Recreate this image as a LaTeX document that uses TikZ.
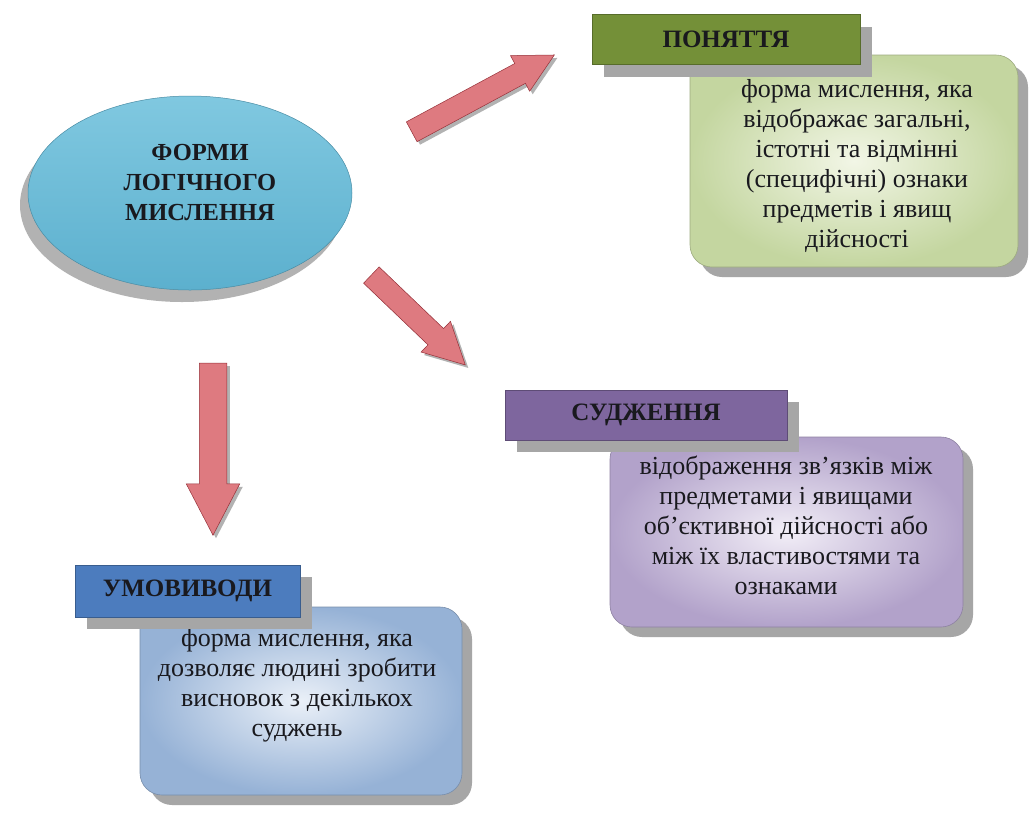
\documentclass[tikz,border=0pt]{standalone}
\usepackage{fontspec}
\setmainfont{Liberation Serif}
\usetikzlibrary{shapes.geometric, shapes.arrows, shadows}

\definecolor{ellblue}{RGB}{92,176,206}
\definecolor{ellbluelt}{RGB}{128,200,224}
\definecolor{arrred}{RGB}{188,60,70}
\definecolor{arrredlt}{RGB}{222,122,128}
\definecolor{ponhead}{RGB}{116,144,56}
\definecolor{ponheadlt}{RGB}{156,182,98}
\definecolor{ponbody}{RGB}{196,214,160}
\definecolor{ponbodylt}{RGB}{242,246,230}
\definecolor{sudhead}{RGB}{126,102,158}
\definecolor{sudheadlt}{RGB}{200,186,218}
\definecolor{sudbody}{RGB}{178,162,202}
\definecolor{sudbodylt}{RGB}{242,238,247}
\definecolor{umohead}{RGB}{76,124,190}
\definecolor{umoheadlt}{RGB}{160,192,230}
\definecolor{umobody}{RGB}{150,178,214}
\definecolor{umobodylt}{RGB}{234,240,248}
\definecolor{txtdark}{RGB}{25,25,30}

\tikzset{
  headbox/.style={rectangle, draw=#1!75!black, line width=0.6pt, minimum height=50pt,
    top color=#1, middle color=#1lt, bottom color=#1,
    font=\fontsize{25}{28}\selectfont\bfseries, text=txtdark,
    drop shadow={shadow xshift=12pt, shadow yshift=-12pt, fill=black!35, opacity=1}},
  bodybox/.style={rectangle, rounded corners=22pt, draw=#1!80!black, line width=0.6pt,
    inner color=#1lt, outer color=#1,
    drop shadow={shadow xshift=10pt, shadow yshift=-10pt, fill=black!35, opacity=1}},
  bodytxt/.style={align=center, inner sep=0pt, text=txtdark,
    font=\fontsize{26}{30}\selectfont},
  blockarr/.style={single arrow, sloped, allow upside down, midway, inner xsep=0pt,
    single arrow tip angle=55, draw=arrred!80!black, line width=0.5pt,
    top color=arrredlt, middle color=arrred, bottom color=arrredlt,
    drop shadow={shadow xshift=3pt, shadow yshift=-3pt, fill=black!30, opacity=1}}
}

\begin{document}
\begin{tikzpicture}[x=1pt, y=-1pt]
  \useasboundingbox[fill=white] (0,0) rectangle (1034,815);

  % central ellipse
  \node[ellipse, minimum width=324pt, minimum height=194pt, draw=ellblue!80!black,
    line width=0.5pt, top color=ellbluelt, bottom color=ellblue,
    drop shadow={shadow xshift=-8pt, shadow yshift=-12pt, fill=black!30, opacity=1}]
    (forms) at (190,193) {};
  \node[align=center, font=\fontsize{24.5}{30}\selectfont\bfseries, text=txtdark]
    (formstxt) at (200,183) {ФОРМИ\\ЛОГІЧНОГО\\МИСЛЕННЯ};

  % arrows
  \coordinate (a1s) at (402,137);
  \coordinate (a1e) at (545,60);
  \coordinate (a2s) at (364,268);
  \coordinate (a2e) at (457,357);
  \coordinate (a3s) at (213,350);
  \coordinate (a3e) at (213,522);
  \path (a1s) -- (a1e) node[blockarr, minimum height=162pt, inner ysep=11pt,
    single arrow head extend=9pt] (arrpon) {};
  \path (a2s) -- (a2e) node[blockarr, minimum height=130pt, inner ysep=11pt,
    single arrow head extend=10pt] (arrsud) {};
  \path (a3s) -- (a3e) node[blockarr, minimum height=172pt, inner ysep=13.5pt,
    single arrow head extend=13pt] (arrumo) {};

  % ПОНЯТТЯ
  \node[bodybox=ponbody, minimum width=328pt, minimum height=212pt] (ponbox) at (854,161) {};
  \node[bodytxt] (pontxt) at (857,166)
    {форма мислення, яка\\відображає загальні,\\істотні та відмінні\\(специфічні) ознаки\\предметів і явищ\\дійсності};
  \node[headbox=ponhead, minimum width=268pt] (ponhead) at (726,39.5) {ПОНЯТТЯ};

  % СУДЖЕННЯ
  \node[bodybox=sudbody, minimum width=353pt, minimum height=190pt] (sudbox) at (786.5,532) {};
  \node[bodytxt] (sudtxt) at (786,525)
    {відображення зв’язків між\\предметами і явищами\\об’єктивної дійсності або\\між їх властивостями та\\ознаками};
  \node[headbox=sudhead, minimum width=282pt] (sudhead) at (646,415) {СУДЖЕННЯ};

  % УМОВИВОДИ
  \node[bodybox=umobody, minimum width=322pt, minimum height=188pt] (umobox) at (301,701) {};
  \node[bodytxt] (umotxt) at (297,685)
    {форма мислення, яка\\дозволяє людині зробити\\висновок з декількох\\суджень};
  \node[headbox=umohead, minimum width=225pt, minimum height=52pt] (umohead) at (187.5,591) {УМОВИВОДИ};
\end{tikzpicture}
\end{document}
